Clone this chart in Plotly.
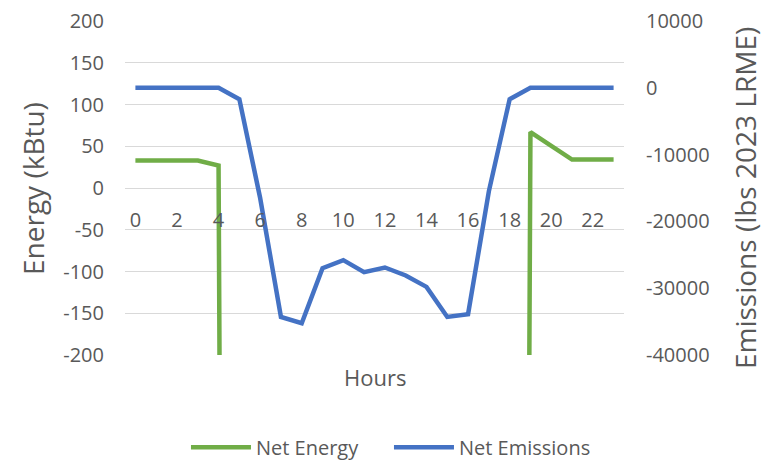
import plotly.graph_objects as go

hours = list(range(24))
net_energy = [33, 33, 33, 33, 27, -5000, -5000, -5000, -5000, -5000, -5000, -5000,
              -5000, -5000, -5000, -5000, -5000, -5000, -5000, 67, 50, 34, 34, 34]
net_emissions = [0, 0, 0, 0, 0, -1700, -16500, -34300, -35250, -27000, -25800, -27600,
                 -26900, -28100, -29800, -34300, -33900, -15500, -1700, 0, 0, 0, 0, 0]
x_ticks = list(range(0, 24, 2))
energy_ticks = list(range(-200, 201, 50))
emission_ticks = list(range(-40000, 10001, 10000))

GREY = "#595959"
FONT = "Open Sans"

fig = go.Figure()
fig.add_trace(go.Scatter(x=hours, y=net_energy, mode="lines", name="Net Energy",
                         line=dict(color="#70AD47", width=4.5), yaxis="y"))
fig.add_trace(go.Scatter(x=hours, y=net_emissions, mode="lines", name="Net Emissions",
                         line=dict(color="#4472C4", width=4.5), yaxis="y2"))

fig.update_layout(
    width=764, height=455,
    margin=dict(l=117, r=148, t=13, b=108, autoexpand=False),
    paper_bgcolor="white", plot_bgcolor="white",
    font=dict(family=FONT, color=GREY, size=20),
    xaxis=dict(range=[-0.5, 23.5], tickvals=x_ticks, ticktext=[str(t) for t in x_ticks],
               showgrid=False, zeroline=False, showline=False, ticks="",
               anchor="free", position=0.447, tickfont=dict(size=20, color=GREY)),
    yaxis=dict(range=[-200, 200], tickvals=energy_ticks,
               ticktext=[str(t) for t in energy_ticks], showgrid=True,
               gridcolor="#D9D9D9", gridwidth=1, zeroline=False, showline=False,
               ticks="", ticklabelstandoff=20, ticklabeloverflow="allow",
               tickfont=dict(size=20, color=GREY)),
    yaxis2=dict(range=[-40000, 10000], tickvals=emission_ticks,
                ticktext=[str(t) for t in emission_ticks], overlaying="y",
                side="right", showgrid=False, zeroline=False, showline=False,
                ticks="", ticklabelstandoff=21, ticklabeloverflow="allow",
                tickfont=dict(size=20, color=GREY)),
    legend=dict(orientation="h", x=0.529, xanchor="center", y=-0.276, yanchor="middle",
                font=dict(size=20, color=GREY), itemwidth=60, entrywidth=128,
                entrywidthmode="pixels", bgcolor="rgba(0,0,0,0)"),
    showlegend=True,
    annotations=[
        dict(text="Energy (kBtu)", xref="paper", yref="paper", x=-0.1844, y=0.5,
             textangle=-90, showarrow=False, font=dict(size=28, color=GREY),
             xanchor="center", yanchor="middle"),
        dict(text="Emissions (lbs 2023 LRME)", xref="paper", yref="paper", x=1.2425, y=0.47,
             textangle=-90, showarrow=False, font=dict(size=28, color=GREY),
             xanchor="center", yanchor="middle"),
        dict(text="Hours", xref="paper", yref="paper", x=(375 - 125) / 499, y=-0.066,
             showarrow=False, font=dict(size=22, color=GREY),
             xanchor="center", yanchor="middle"),
    ],
)

fig.write_html("out.html")
